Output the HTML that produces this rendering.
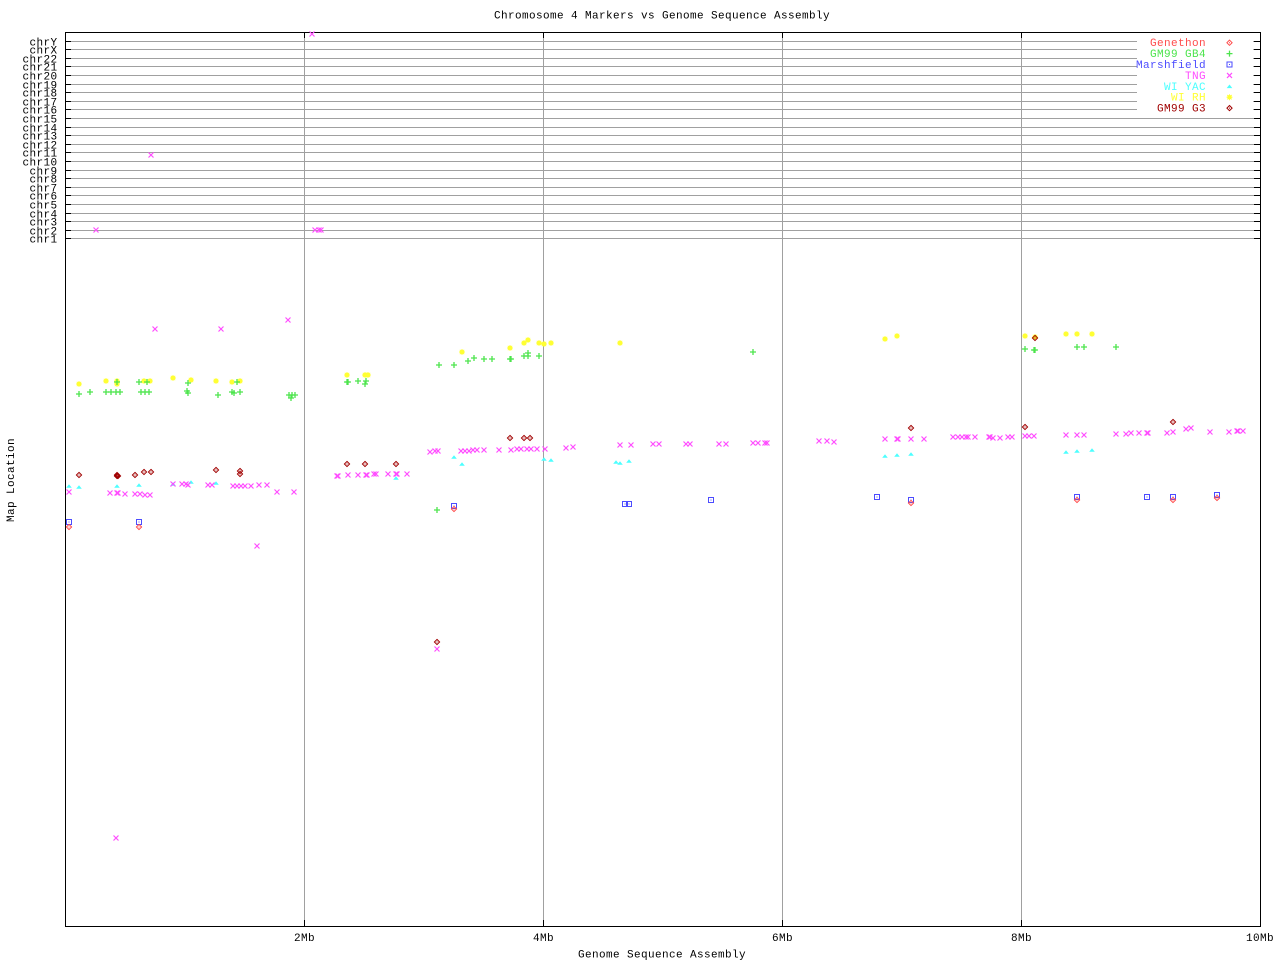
<!DOCTYPE html>
<html>
<head>
<meta charset="utf-8">
<style>
html,body{margin:0;padding:0;background:#fff;}
svg{display:block;}
text{font-family:"Liberation Mono","DejaVu Sans Mono",monospace;font-size:11px;letter-spacing:0.4px;fill:#000;}
</style>
</head>
<body>
<svg width="1280" height="960" viewBox="0 0 1280 960" xmlns="http://www.w3.org/2000/svg">
<defs>
  <g id="tng"><path d="M-2.5,-2.5L2.5,2.5M-2.5,2.5L2.5,-2.5" stroke="#ff4cff" stroke-width="1.2" fill="none"/></g>
  <g id="gb4"><path d="M-3,0H3M0,-3V3" stroke="#4ce44c" stroke-width="1.3" fill="none"/></g>
  <g id="mar"><rect x="-2.5" y="-2.5" width="5" height="5" fill="none" stroke="#4c4cff" stroke-width="1"/><rect x="-0.5" y="-0.5" width="1" height="1" fill="#4c4cff"/></g>
  <g id="yac"><path d="M-2.8,1.8L0,-1.8L2.8,1.8Z" fill="#4cffff"/></g>
  <g id="rh"><circle r="2.2" fill="#ffff33"/><path d="M-3,0H3M0,-3V3M-2.2,-2.2L2.2,2.2M-2.2,2.2L2.2,-2.2" stroke="#ffff33" stroke-width="0.9"/></g>
  <g id="gen"><path d="M0,-2.6L2.6,0L0,2.6L-2.6,0Z" fill="none" stroke="#ff4c4c" stroke-width="1"/><rect x="-0.5" y="-0.5" width="1" height="1" fill="#ff4c4c"/></g>
  <g id="g3"><path d="M0,-2.6L2.6,0L0,2.6L-2.6,0Z" fill="none" stroke="#a00000" stroke-width="1"/><rect x="-0.5" y="-0.5" width="1" height="1" fill="#a00000"/></g>
</defs>

<!-- title -->
<text x="662" y="18.5" text-anchor="middle">Chromosome 4 Markers vs Genome Sequence Assembly</text>

<!-- horizontal chr gridlines -->
<g stroke="#a0a0a0" stroke-width="1" shape-rendering="crispEdges">
  <path d="M65,41.5H1260M65,49.5H1260M65,58.5H1260M65,66.5H1260M65,75.5H1260M65,84.5H1260M65,92.5H1260M65,101.5H1260M65,109.5H1260M65,118.5H1260M65,127.5H1260M65,135.5H1260M65,144.5H1260M65,152.5H1260M65,161.5H1260M65,170.5H1260M65,178.5H1260M65,187.5H1260M65,195.5H1260M65,204.5H1260M65,213.5H1260M65,221.5H1260M65,230.5H1260M65,238.5H1260"/>
  <path d="M304.5,32V926M543.5,32V926M782.5,32V926M1021.5,32V926"/>
</g>

<!-- legend background -->
<rect x="1137" y="36" width="116" height="79" fill="#fff"/>

<!-- ticks -->
<g stroke="#000" stroke-width="1" shape-rendering="crispEdges">
  <path d="M65,41.5H71M65,49.5H71M65,58.5H71M65,66.5H71M65,75.5H71M65,84.5H71M65,92.5H71M65,101.5H71M65,109.5H71M65,118.5H71M65,127.5H71M65,135.5H71M65,144.5H71M65,152.5H71M65,161.5H71M65,170.5H71M65,178.5H71M65,187.5H71M65,195.5H71M65,204.5H71M65,213.5H71M65,221.5H71M65,230.5H71M65,238.5H71"/>
  <path d="M1254,41.5H1260M1254,49.5H1260M1254,58.5H1260M1254,66.5H1260M1254,75.5H1260M1254,84.5H1260M1254,92.5H1260M1254,101.5H1260M1254,109.5H1260M1254,118.5H1260M1254,127.5H1260M1254,135.5H1260M1254,144.5H1260M1254,152.5H1260M1254,161.5H1260M1254,170.5H1260M1254,178.5H1260M1254,187.5H1260M1254,195.5H1260M1254,204.5H1260M1254,213.5H1260M1254,221.5H1260M1254,230.5H1260M1254,238.5H1260"/>
  <path d="M304.5,32V38M543.5,32V38M782.5,32V38M1021.5,32V38M304.5,920V926M543.5,920V926M782.5,920V926M1021.5,920V926"/>
  <rect x="65.5" y="32.5" width="1195" height="894" fill="none"/>
</g>

<!-- y tick labels -->
<g text-anchor="end">
  <text x="57.5" y="45.5">chrY</text>
  <text x="57.5" y="53.5">chrX</text>
  <text x="57.5" y="62.5">chr22</text>
  <text x="57.5" y="70.5">chr21</text>
  <text x="57.5" y="79.5">chr20</text>
  <text x="57.5" y="88.5">chr19</text>
  <text x="57.5" y="96.5">chr18</text>
  <text x="57.5" y="105.5">chr17</text>
  <text x="57.5" y="113.5">chr16</text>
  <text x="57.5" y="122.5">chr15</text>
  <text x="57.5" y="131.5">chr14</text>
  <text x="57.5" y="139.5">chr13</text>
  <text x="57.5" y="148.5">chr12</text>
  <text x="57.5" y="156.5">chr11</text>
  <text x="57.5" y="165.5">chr10</text>
  <text x="57.5" y="174.5">chr9</text>
  <text x="57.5" y="182.5">chr8</text>
  <text x="57.5" y="191.5">chr7</text>
  <text x="57.5" y="199.5">chr6</text>
  <text x="57.5" y="208.5">chr5</text>
  <text x="57.5" y="217.5">chr4</text>
  <text x="57.5" y="225.5">chr3</text>
  <text x="57.5" y="234.5">chr2</text>
  <text x="57.5" y="242.5">chr1</text>
</g>

<!-- x tick labels -->
<g text-anchor="middle">
  <text x="304.5" y="941">2Mb</text>
  <text x="543.5" y="941">4Mb</text>
  <text x="782.5" y="941">6Mb</text>
  <text x="1021.5" y="941">8Mb</text>
  <text x="1260" y="941">10Mb</text>
</g>

<!-- axis labels -->
<text x="662" y="957.5" text-anchor="middle">Genome Sequence Assembly</text>
<text transform="translate(14,480) rotate(-90)" text-anchor="middle">Map Location</text>

<!-- legend -->
<g text-anchor="end">
  <text x="1206" y="46.2" style="fill:#ff4c4c">Genethon</text>
  <text x="1206" y="57.1" style="fill:#4ce44c">GM99 GB4</text>
  <text x="1206" y="68" style="fill:#4c4cff">Marshfield</text>
  <text x="1206" y="78.9" style="fill:#ff4cff">TNG</text>
  <text x="1206" y="89.8" style="fill:#4cffff">WI YAC</text>
  <text x="1206" y="100.7" style="fill:#ffff33">WI RH</text>
  <text x="1206" y="111.6" style="fill:#a00000">GM99 G3</text>
</g>
<use href="#gen" x="1229.5" y="42.7"/>
<use href="#gb4" x="1229.5" y="53.6"/>
<use href="#mar" x="1229.5" y="64.5"/>
<use href="#tng" x="1229.5" y="75.4"/>
<use href="#yac" x="1229.5" y="86.3"/>
<use href="#rh" x="1229.5" y="97.2"/>
<use href="#g3" x="1229.5" y="108.1"/>

<!-- WI RH -->
<g>
<use href="#rh" x="79" y="384"/><use href="#rh" x="106" y="381"/><use href="#rh" x="117" y="381"/><use href="#rh" x="117" y="384"/>
<use href="#rh" x="144" y="381"/><use href="#rh" x="150" y="381"/><use href="#rh" x="173" y="378"/><use href="#rh" x="191" y="380"/>
<use href="#rh" x="216" y="381"/><use href="#rh" x="232" y="382"/><use href="#rh" x="240" y="381"/>
<use href="#rh" x="347" y="375"/><use href="#rh" x="365" y="375"/><use href="#rh" x="368" y="375"/><use href="#rh" x="462" y="352"/>
<use href="#rh" x="510" y="348"/><use href="#rh" x="524" y="343"/><use href="#rh" x="528" y="340"/><use href="#rh" x="539" y="343"/>
<use href="#rh" x="544" y="344"/><use href="#rh" x="551" y="343"/><use href="#rh" x="620" y="343"/><use href="#rh" x="885" y="339"/>
<use href="#rh" x="897" y="336"/><use href="#rh" x="1025" y="336"/><use href="#rh" x="1035" y="337"/><use href="#rh" x="1066" y="334"/>
<use href="#rh" x="1077" y="334"/><use href="#rh" x="1092" y="334"/>
</g>

<!-- GM99 GB4 -->
<g>
<use href="#gb4" x="79" y="394"/><use href="#gb4" x="90" y="392"/><use href="#gb4" x="106" y="392"/><use href="#gb4" x="111" y="392"/>
<use href="#gb4" x="116" y="392"/><use href="#gb4" x="120" y="392"/><use href="#gb4" x="117" y="382"/><use href="#gb4" x="139" y="382"/>
<use href="#gb4" x="141" y="392"/><use href="#gb4" x="145" y="392"/><use href="#gb4" x="149" y="392"/><use href="#gb4" x="147" y="382"/>
<use href="#gb4" x="188" y="383"/><use href="#gb4" x="187" y="391"/><use href="#gb4" x="188" y="393"/><use href="#gb4" x="218" y="395"/>
<use href="#gb4" x="232" y="392"/><use href="#gb4" x="234" y="393"/><use href="#gb4" x="240" y="392"/><use href="#gb4" x="237" y="382"/>
<use href="#gb4" x="289" y="395"/><use href="#gb4" x="292" y="395"/><use href="#gb4" x="295" y="395"/><use href="#gb4" x="291" y="398"/>
<use href="#gb4" x="347" y="382"/><use href="#gb4" x="348" y="382"/><use href="#gb4" x="358" y="381"/><use href="#gb4" x="366" y="381"/>
<use href="#gb4" x="365" y="384"/><use href="#gb4" x="439" y="365"/><use href="#gb4" x="454" y="365"/><use href="#gb4" x="468" y="361"/>
<use href="#gb4" x="474" y="358"/><use href="#gb4" x="484" y="359"/><use href="#gb4" x="492" y="359"/><use href="#gb4" x="510" y="359"/>
<use href="#gb4" x="511" y="359"/><use href="#gb4" x="524" y="356"/><use href="#gb4" x="528" y="353"/><use href="#gb4" x="528" y="356"/>
<use href="#gb4" x="539" y="356"/><use href="#gb4" x="437" y="510"/><use href="#gb4" x="753" y="352"/>
<use href="#gb4" x="1025" y="349"/><use href="#gb4" x="1035" y="350"/><use href="#gb4" x="1034" y="350"/><use href="#gb4" x="1077" y="347"/>
<use href="#gb4" x="1084" y="347"/><use href="#gb4" x="1116" y="347"/>
</g>

<!-- WI YAC -->
<g>
<use href="#yac" x="69" y="486"/><use href="#yac" x="79" y="487"/><use href="#yac" x="117" y="486"/><use href="#yac" x="139" y="485"/>
<use href="#yac" x="173" y="484"/><use href="#yac" x="191" y="482"/><use href="#yac" x="216" y="483"/><use href="#yac" x="396" y="478"/>
<use href="#yac" x="454" y="457"/><use href="#yac" x="462" y="464"/><use href="#yac" x="544" y="459"/><use href="#yac" x="551" y="460"/>
<use href="#yac" x="616" y="462"/><use href="#yac" x="620" y="463"/><use href="#yac" x="629" y="461"/><use href="#yac" x="885" y="456"/>
<use href="#yac" x="897" y="455"/><use href="#yac" x="911" y="454"/><use href="#yac" x="1066" y="452"/><use href="#yac" x="1077" y="451"/>
<use href="#yac" x="1092" y="450"/>
</g>

<!-- TNG -->
<g>
<use href="#tng" x="312" y="34"/><use href="#tng" x="151" y="155"/><use href="#tng" x="96" y="230"/><use href="#tng" x="315" y="230"/>
<use href="#tng" x="319" y="230"/><use href="#tng" x="321" y="230"/>
<use href="#tng" x="155" y="329"/><use href="#tng" x="221" y="329"/><use href="#tng" x="288" y="320"/>
<use href="#tng" x="69" y="492"/><use href="#tng" x="110" y="493"/><use href="#tng" x="117" y="493"/><use href="#tng" x="118" y="493"/>
<use href="#tng" x="125" y="494"/><use href="#tng" x="135" y="494"/><use href="#tng" x="140" y="494"/><use href="#tng" x="145" y="495"/>
<use href="#tng" x="150" y="495"/><use href="#tng" x="173" y="484"/><use href="#tng" x="182" y="484"/><use href="#tng" x="186" y="484"/>
<use href="#tng" x="188" y="485"/><use href="#tng" x="208" y="485"/><use href="#tng" x="212" y="485"/><use href="#tng" x="233" y="486"/>
<use href="#tng" x="237" y="486"/><use href="#tng" x="241" y="486"/><use href="#tng" x="245" y="486"/><use href="#tng" x="251" y="486"/>
<use href="#tng" x="259" y="485"/><use href="#tng" x="267" y="485"/><use href="#tng" x="277" y="492"/><use href="#tng" x="294" y="492"/>
<use href="#tng" x="257" y="546"/>
<use href="#tng" x="337" y="476"/><use href="#tng" x="338" y="476"/><use href="#tng" x="348" y="475"/><use href="#tng" x="358" y="475"/>
<use href="#tng" x="366" y="475"/><use href="#tng" x="367" y="475"/><use href="#tng" x="374" y="474"/><use href="#tng" x="376" y="474"/>
<use href="#tng" x="388" y="474"/><use href="#tng" x="396" y="474"/><use href="#tng" x="397" y="474"/><use href="#tng" x="407" y="474"/>
<use href="#tng" x="430" y="452"/><use href="#tng" x="435" y="451"/><use href="#tng" x="438" y="451"/><use href="#tng" x="461" y="451"/>
<use href="#tng" x="465" y="451"/><use href="#tng" x="469" y="451"/><use href="#tng" x="473" y="450"/><use href="#tng" x="477" y="450"/>
<use href="#tng" x="484" y="450"/><use href="#tng" x="499" y="450"/><use href="#tng" x="511" y="450"/><use href="#tng" x="517" y="449"/>
<use href="#tng" x="521" y="449"/><use href="#tng" x="527" y="449"/><use href="#tng" x="531" y="449"/><use href="#tng" x="537" y="449"/>
<use href="#tng" x="545" y="449"/><use href="#tng" x="566" y="448"/><use href="#tng" x="573" y="447"/>
<use href="#tng" x="620" y="445"/><use href="#tng" x="631" y="445"/><use href="#tng" x="653" y="444"/><use href="#tng" x="659" y="444"/>
<use href="#tng" x="686" y="444"/><use href="#tng" x="690" y="444"/><use href="#tng" x="719" y="444"/><use href="#tng" x="726" y="444"/>
<use href="#tng" x="753" y="443"/><use href="#tng" x="758" y="443"/><use href="#tng" x="765" y="443"/><use href="#tng" x="767" y="443"/>
<use href="#tng" x="819" y="441"/><use href="#tng" x="827" y="441"/><use href="#tng" x="834" y="442"/><use href="#tng" x="885" y="439"/>
<use href="#tng" x="897" y="439"/><use href="#tng" x="898" y="439"/>
<use href="#tng" x="911" y="439"/><use href="#tng" x="924" y="439"/><use href="#tng" x="953" y="437"/><use href="#tng" x="958" y="437"/>
<use href="#tng" x="962" y="437"/><use href="#tng" x="966" y="437"/><use href="#tng" x="968" y="437"/><use href="#tng" x="975" y="437"/>
<use href="#tng" x="989" y="437"/><use href="#tng" x="990" y="437"/><use href="#tng" x="993" y="438"/><use href="#tng" x="1000" y="438"/>
<use href="#tng" x="1008" y="437"/><use href="#tng" x="1012" y="437"/><use href="#tng" x="1025" y="436"/><use href="#tng" x="1029" y="436"/>
<use href="#tng" x="1034" y="436"/><use href="#tng" x="1066" y="435"/><use href="#tng" x="1077" y="435"/><use href="#tng" x="1084" y="435"/>
<use href="#tng" x="1116" y="434"/><use href="#tng" x="1126" y="434"/><use href="#tng" x="1131" y="433"/><use href="#tng" x="1139" y="433"/>
<use href="#tng" x="1147" y="433"/><use href="#tng" x="1148" y="433"/><use href="#tng" x="1167" y="433"/><use href="#tng" x="1173" y="432"/>
<use href="#tng" x="1186" y="429"/><use href="#tng" x="1191" y="428"/><use href="#tng" x="1210" y="432"/><use href="#tng" x="1229" y="432"/>
<use href="#tng" x="1237" y="431"/><use href="#tng" x="1238" y="431"/><use href="#tng" x="1243" y="431"/>
<use href="#tng" x="437" y="649"/><use href="#tng" x="116" y="838"/>
</g>

<!-- Marshfield -->
<g>
<use href="#mar" x="69" y="522"/><use href="#mar" x="139" y="522"/><use href="#mar" x="454" y="506"/><use href="#mar" x="625" y="504"/>
<use href="#mar" x="629" y="504"/><use href="#mar" x="711" y="500"/><use href="#mar" x="877" y="497"/><use href="#mar" x="911" y="500"/>
<use href="#mar" x="1077" y="497"/><use href="#mar" x="1147" y="497"/><use href="#mar" x="1173" y="497"/><use href="#mar" x="1217" y="495"/>
</g>

<!-- Genethon -->
<g>
<use href="#gen" x="69" y="527"/><use href="#gen" x="139" y="527"/><use href="#gen" x="454" y="509"/><use href="#gen" x="911" y="503"/>
<use href="#gen" x="1077" y="500"/><use href="#gen" x="1173" y="500"/><use href="#gen" x="1217" y="498"/>
</g>

<!-- GM99 G3 -->
<g>
<use href="#g3" x="79" y="475"/><use href="#g3" x="117" y="476"/><use href="#g3" x="118" y="476"/><use href="#g3" x="117" y="475"/>
<use href="#g3" x="135" y="475"/><use href="#g3" x="144" y="472"/><use href="#g3" x="151" y="472"/><use href="#g3" x="216" y="470"/>
<use href="#g3" x="240" y="471"/><use href="#g3" x="240" y="474"/><use href="#g3" x="347" y="464"/><use href="#g3" x="365" y="464"/>
<use href="#g3" x="396" y="464"/><use href="#g3" x="510" y="438"/><use href="#g3" x="524" y="438"/><use href="#g3" x="530" y="438"/>
<use href="#g3" x="437" y="642"/><use href="#g3" x="911" y="428"/><use href="#g3" x="1025" y="427"/><use href="#g3" x="1035" y="338"/>
<use href="#g3" x="1173" y="422"/>
</g>
</svg>
</body>
</html>
